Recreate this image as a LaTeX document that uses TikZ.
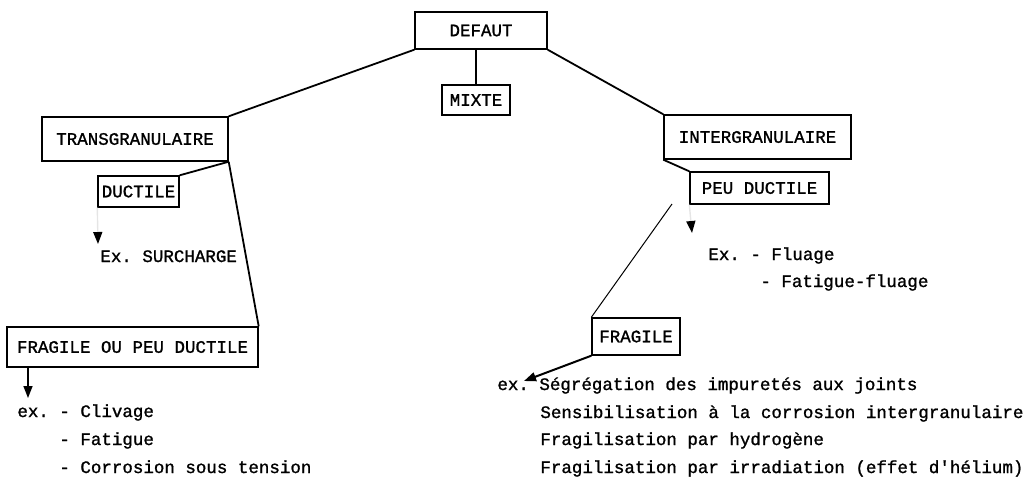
\documentclass[tikz,border=0pt]{standalone}
\usepackage{fontspec}
\setmonofont{Liberation Mono}[FakeBold=1.2]
\usetikzlibrary{arrows.meta}

\begin{document}
\begin{tikzpicture}[x=1pt, y=-1pt, thick,
                    every node/.style={font=\ttfamily\fontsize{17.5}{20}\selectfont},
                    main box/.style={draw, rectangle, line width=1.4pt, inner sep=0pt},
                    item/.style={anchor=base west, inner sep=0pt},
                    link/.style={line width=1.8pt},
                    ex arrow/.style={line width=1.4pt, -{Triangle[length=12pt, width=9pt, color=black]}}]

  \useasboundingbox (0,0) rectangle (1036,499);

  \node[main box, minimum width=132pt, minimum height=37pt] (defaut) at (481,30.5) {DEFAUT};
  \node[main box, minimum width=68pt,  minimum height=30pt] (mixte)  at (476,100)  {MIXTE};
  \node[main box, minimum width=186pt, minimum height=44pt] (trans)  at (135,139)  {TRANSGRANULAIRE};
  \node[main box, minimum width=187pt, minimum height=44pt] (inter)  at (757.5,137) {INTERGRANULAIRE};
  \node[main box, minimum width=81pt,  minimum height=31pt] (ductile) at (138.5,191.5) {DUCTILE};
  \node[main box, minimum width=139pt, minimum height=32pt] (peu)    at (759.5,188) {PEU DUCTILE};
  \node[main box, minimum width=251pt, minimum height=40pt] (fragou) at (132.5,347) {FRAGILE OU PEU DUCTILE};
  \node[main box, minimum width=88pt,  minimum height=37pt] (fragile) at (636,336.5) {FRAGILE};

  % examples
  \node[item] (surcharge) at (100,262) {Ex. SURCHARGE};
  \node[item] (clivage)   at (17,417)  {ex. - Clivage};
  \node[item] (fatigue)   at (59,445)  {- Fatigue};
  \node[item] (corrosion) at (59,473)  {- Corrosion sous tension};
  \node[item] (fluage)    at (708,260) {Ex. - Fluage};
  \node[item] (fatflu)    at (760,287) {- Fatigue-fluage};
  \node[item] (segreg)    at (497,390) {ex. Ségrégation des impuretés aux joints};
  \node[item] (sensib)    at (540,418) {Sensibilisation à la corrosion intergranulaire};
  \node[item] (hydro)     at (540,445) {Fragilisation par hydrogène};
  \node[item] (irrad)     at (540,473) {Fragilisation par irradiation (effet d'hélium)};

  \coordinate (ductile end) at (98,244);
  \coordinate (peu end)     at (692,233);
  \coordinate (fragou end)  at (28,398);
  \coordinate (fragile end) at (524,381);
  \coordinate (split)       at (672,204);

  \path[link]
    (defaut.south west) edge (trans.north east)
    (defaut.south east) edge (inter.north west)
    (mixte.north)       edge (mixte.north |- defaut.south)
    (trans.south east)  edge (ductile.north east)
    (trans.south east)  edge (fragou.north east)
    (inter.south west)  edge (peu.north west);
  \draw[line width=1pt] (split) -- (fragile.north west);

  \draw[ex arrow, draw=black!10] (ductile.south west) -- (ductile end);
  \draw[ex arrow, draw=black!10] (peu.south west) -- (peu end);
  \draw[ex arrow] (fragou.south west -| fragou end) -- (fragou end);
  \draw[ex arrow, line width=2pt] (fragile.south west) -- (fragile end);

\end{tikzpicture}
\end{document}
